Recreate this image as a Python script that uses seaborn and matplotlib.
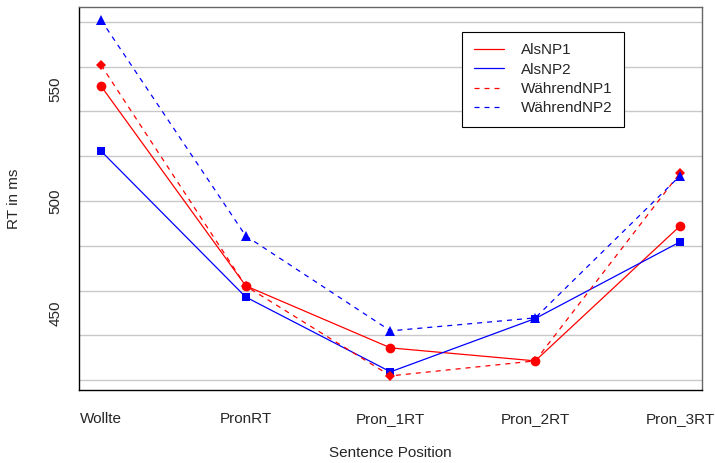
import matplotlib
matplotlib.use("Agg")
import matplotlib.pyplot as plt
from matplotlib.lines import Line2D
import seaborn as sns
import pandas as pd

# --------------------------------------------
# Data
# --------------------------------------------
positions = ["Wollte", "PronRT", "Pron_1RT", "Pron_2RT", "Pron_3RT"]
als_np1 = [551.3, 462.1, 434.4, 428.6, 488.8]
als_np2 = [522.3, 457.1, 423.7, 447.5, 481.7]
waehrend_np1 = [560.7, 462.0, 421.9, 428.6, 512.5]
waehrend_np2 = [580.8, 484.4, 442.0, 447.8, 511.2]
conditions = ["AlsNP1", "AlsNP2", "WährendNP1", "WährendNP2"]

series = [als_np1, als_np2, waehrend_np1, waehrend_np2]
rows = []
for cond, vals in zip(conditions, series):
    for pos, v in zip(positions, vals):
        rows.append({"pos": pos, "rt": v, "cond": cond})
df = pd.DataFrame(rows)

colors = {"AlsNP1": "red", "AlsNP2": "blue", "WährendNP1": "red", "WährendNP2": "blue"}
dashes = {"AlsNP1": "", "AlsNP2": "", "WährendNP1": (4, 4), "WährendNP2": (4, 4)}
markers = {"AlsNP1": "o", "AlsNP2": "s", "WährendNP1": "D", "WährendNP2": "^"}
msizes = {"AlsNP1": 7, "AlsNP2": 6, "WährendNP1": 5.5, "WährendNP2": 7.5}

# --------------------------------------------
# Plot
# --------------------------------------------
sns.set_style("white")
plt.rcParams["font.family"] = ["Liberation Sans", "DejaVu Sans"]
plt.rcParams["font.size"] = 10

fig = plt.figure(figsize=(7.15, 4.63), dpi=100)
ax = fig.add_axes([0.1105, 0.1577, 0.8713, 0.8272])

for cond in conditions:
    sub = df[df["cond"] == cond]
    sns.lineplot(data=sub, x="pos", y="rt", color=colors[cond], ax=ax,
                 marker=markers[cond], markersize=msizes[cond],
                 markeredgewidth=0, linewidth=0.9, dashes=False, legend=False)
    line = ax.lines[-1]
    if dashes[cond]:
        line.set_linestyle((0, dashes[cond]))

for y in range(420, 600, 20):
    ax.axhline(y, color="#c8c8c8", linewidth=1, zorder=0)

ax.set_xlim(-0.152, 4.152)
ax.set_ylim(415.6, 586.6)
ax.set_yticks([450, 500, 550])
ax.set_yticklabels(["450", "500", "550"], rotation=90, va="center")
ax.tick_params(axis="y", length=7, width=0.8, color="black", pad=5, labelsize=11)
ax.tick_params(axis="x", length=0, pad=16, labelsize=11)
ax.set_xlabel("Sentence Position", fontsize=11, labelpad=14)
ax.set_ylabel("RT in ms", fontsize=11, labelpad=20)

for side in ["left", "bottom"]:
    ax.spines[side].set_color("black")
    ax.spines[side].set_linewidth(1)
for side in ["top", "right"]:
    ax.spines[side].set_color("#666666")
    ax.spines[side].set_linewidth(1)

handles = [Line2D([0], [0], color=colors[c], linewidth=0.9,
                  linestyle=(0, dashes[c]) if dashes[c] else "-") for c in conditions]
leg = ax.legend(handles, conditions, loc="upper left", bbox_to_anchor=(0.615, 0.935),
                frameon=True, fancybox=False, framealpha=1, edgecolor="black",
                fontsize=11, handlelength=2.0, handletextpad=1.1,
                labelspacing=0.35, borderpad=0.75, borderaxespad=0)
leg.get_frame().set_linewidth(0.8)

fig.savefig("out.png", dpi=100)
print("Completed Successfully!")
